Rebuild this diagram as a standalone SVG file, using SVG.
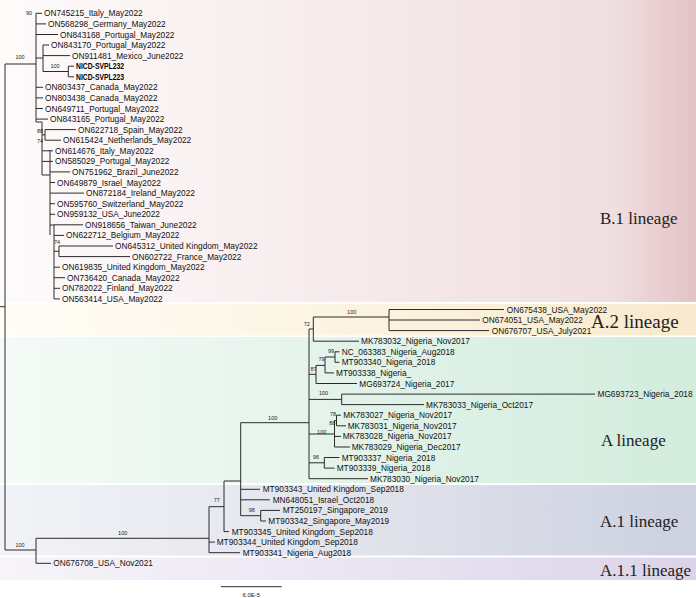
<svg xmlns="http://www.w3.org/2000/svg" width="696" height="598" viewBox="0 0 696 598">
<style>
.t{font-family:"Liberation Sans",Arial,sans-serif;font-size:8.3px;fill:#111}
.b{font-family:"Liberation Sans",Arial,sans-serif;font-size:8.4px;font-weight:bold;fill:#000}
.s{font-family:"Liberation Sans",Arial,sans-serif;font-size:5.5px;fill:#222;text-anchor:middle}
.lin{font-family:"Liberation Serif","Times New Roman",serif;font-size:17px;fill:#222}
.br{fill:none;stroke:#2a2a2a;stroke-width:1}
</style>
<defs>
<linearGradient id="gB1" x1="0" x2="1" y1="0" y2="0"><stop offset="0" stop-color="#fefbfb"/><stop offset="0.45" stop-color="#f7eced"/><stop offset="0.88" stop-color="#f0dfe0"/><stop offset="1" stop-color="#e3c2c5"/></linearGradient>
<linearGradient id="gA2" x1="0" x2="1" y1="0" y2="0"><stop offset="0" stop-color="#fffdf7"/><stop offset="0.5" stop-color="#fcf4e2"/><stop offset="1" stop-color="#f8eace"/></linearGradient>
<linearGradient id="gA" x1="0" x2="1" y1="0" y2="0"><stop offset="0" stop-color="#f5fbf7"/><stop offset="0.5" stop-color="#e3f3ea"/><stop offset="1" stop-color="#d2ecdd"/></linearGradient>
<linearGradient id="gA1" x1="0" x2="1" y1="0" y2="0"><stop offset="0" stop-color="#f2f3f7"/><stop offset="0.5" stop-color="#e2e4ec"/><stop offset="1" stop-color="#cdd1e0"/></linearGradient>
<linearGradient id="gA11" x1="0" x2="1" y1="0" y2="0"><stop offset="0" stop-color="#f7f4fa"/><stop offset="0.5" stop-color="#ebe5f2"/><stop offset="1" stop-color="#dcd3e9"/></linearGradient>
</defs>
<rect width="696" height="598" fill="#fff"/>
<g id="lineage-B1"><rect x="0" y="0" width="696" height="302" fill="url(#gB1)"/><text class="lin" x="600" y="224">B.1 lineage</text></g>
<g id="lineage-A2"><rect x="0" y="304" width="696" height="31.5" fill="url(#gA2)"/><text class="lin" x="591" y="328" style="font-size:19px">A.2 lineage</text></g>
<g id="lineage-A"><rect x="0" y="337" width="696" height="146" fill="url(#gA)"/><text class="lin" x="601" y="446">A lineage</text></g>
<g id="lineage-A1"><rect x="0" y="485" width="696" height="70.5" fill="url(#gA1)"/><text class="lin" x="600" y="527">A.1 lineage</text></g>
<g id="lineage-A11"><rect x="0" y="557.5" width="696" height="22.5" fill="url(#gA11)"/><text class="lin" x="600" y="576">A.1.1 lineage</text></g>

<g id="connectors" class="br">
<path d="M0,306.7H5M5,64V550M5,64H36M36,13.3V122
M36,13.3H42M36,23.9H46M36,34.5H58
M36,58H43M43,45V71.5M43,45H49M43,55.6H70M43,71.5H68.3M68.3,66.2V76.8M68.3,66.2H74M68.3,76.8H74
M36,87.3H43M36,97.9H43M36,108.5H43M36,119.1H48
M36,122H42M42,122V175M42,134.9H45M45,129.6V140.2M45,129.6H76M45,140.2H61
M42,150.8H53M42,161.4H53M42,175H50M50,150V235
M50,171.9H70M50,182.5H55M50,193.1H84M50,203.7H55M50,214.3H55
M50,225H54M54,224.8V298.9M54,224.8H83M54,235.4H64
M54,251.3H59M59,246V256.6M59,246H113M59,256.6H130
M54,267.2H60M54,277.7H65M54,288.3H60M54,298.9H60
M5,550H36M36,538.3V563.3M36,563.3H51M36,538.3H209
M209,506.7V552.7M209,552.7H240M209,542.1H215M209,506.7H224
M224,481V531.6M224,531.6H229M224,481H240.7
M240.7,422.7V515.7M240.7,489.3H260M240.7,499.8H270M240.7,515.7H260.7
M260.7,510.4V521M260.7,510.4H280M260.7,521H266
M240.7,422.7H309M309,329V478.7
M309,329H313.3M313.3,317V341.2M313.3,341.2H359M313.3,317H389
M389,309.5V330.6M389,309.5H504M389,320H480M389,330.6H489
M309,374.3H316M316,365.4V383.5M316,383.5H357M316,365.4H325
M325,357V372.9M325,372.9H334M325,357H335M335,351.8V362.3M335,351.8H339.5M335,362.3H339.5
M309,399.4H341.7M341.7,394.1V404.6M341.7,394.1H595M341.7,404.6H424
M309,434H334.5M334.5,420.5V447M334.5,420.5H336.5M336.5,415.2V425.8M336.5,415.2H341M336.5,425.8H346M334.5,436.4H341M334.5,447H350
M309,462.8H324.3M324.3,457.5V468.1M324.3,457.5H339.5M324.3,468.1H334.5
M309,478.7H368
M221,586.7H281.7"/>
</g>

<g id="support">
<text class="s" x="29" y="15">90</text>
<text class="s" x="20" y="59">100</text>
<text class="s" x="55" y="68">100</text>
<text class="s" x="40" y="133">88</text>
<text class="s" x="40" y="143">74</text>
<text class="s" x="57" y="244">74</text>
<text class="s" x="351.7" y="314">100</text>
<text class="s" x="306.7" y="325.5">72</text>
<text class="s" x="331" y="353">99</text>
<text class="s" x="321.5" y="360.5">79</text>
<text class="s" x="313.5" y="370.5">87</text>
<text class="s" x="323.5" y="395">100</text>
<text class="s" x="333" y="416">78</text>
<text class="s" x="332.3" y="424.5">88</text>
<text class="s" x="321.7" y="434">100</text>
<text class="s" x="272.7" y="419.5">100</text>
<text class="s" x="316" y="459">96</text>
<text class="s" x="216.7" y="502">77</text>
<text class="s" x="251.7" y="511.5">98</text>
<text class="s" x="122.7" y="534.5">100</text>
<text class="s" x="20" y="547">100</text>
<text class="s" x="251.3" y="596.5" style="font-size:6px">6.0E-5</text>
</g>

<g id="taxa">
<g id="n0"><text class="t" x="44" y="16.3">ON745215_Italy_May2022</text></g>
<g id="n1"><text class="t" x="48" y="26.9">ON568298_Germany_May2022</text></g>
<g id="n2"><text class="t" x="60" y="37.5">ON843168_Portugal_May2022</text></g>
<g id="n3"><text class="t" x="51" y="48">ON843170_Portugal_May2022</text></g>
<g id="n4"><text class="t" x="72" y="58.6">ON911481_Mexico_June2022</text></g>
<g id="n5"><text class="b" x="76" y="69.4" textLength="48" lengthAdjust="spacingAndGlyphs">NICD-SVPL232</text></g>
<g id="n6"><text class="b" x="76" y="80" textLength="48" lengthAdjust="spacingAndGlyphs">NICD-SVPL223</text></g>
<g id="n7"><text class="t" x="45" y="90.3">ON803437_Canada_May2022</text></g>
<g id="n8"><text class="t" x="45" y="100.9">ON803438_Canada_May2022</text></g>
<g id="n9"><text class="t" x="45" y="111.5">ON649711_Portugal_May2022</text></g>
<g id="n10"><text class="t" x="50" y="122.1">ON843165_Portugal_May2022</text></g>
<g id="n11"><text class="t" x="78" y="132.6">ON622718_Spain_May2022</text></g>
<g id="n12"><text class="t" x="63" y="143.2">ON615424_Netherlands_May2022</text></g>
<g id="n13"><text class="t" x="55" y="153.8">ON614676_Italy_May2022</text></g>
<g id="n14"><text class="t" x="55" y="164.4">ON585029_Portugal_May2022</text></g>
<g id="n15"><text class="t" x="72" y="174.9">ON751962_Brazil_June2022</text></g>
<g id="n16"><text class="t" x="57" y="185.5">ON649879_Israel_May2022</text></g>
<g id="n17"><text class="t" x="86" y="196.1">ON872184_Ireland_May2022</text></g>
<g id="n18"><text class="t" x="57" y="206.7">ON595760_Switzerland_May2022</text></g>
<g id="n19"><text class="t" x="57" y="217.3">ON959132_USA_June2022</text></g>
<g id="n20"><text class="t" x="85" y="227.8">ON918656_Taiwan_June2022</text></g>
<g id="n21"><text class="t" x="66" y="238.4">ON622712_Belgium_May2022</text></g>
<g id="n22"><text class="t" x="115" y="249">ON645312_United Kingdom_May2022</text></g>
<g id="n23"><text class="t" x="132" y="259.6">ON602722_France_May2022</text></g>
<g id="n24"><text class="t" x="62" y="270.2">ON619835_United Kingdom_May2022</text></g>
<g id="n25"><text class="t" x="67" y="280.7">ON736420_Canada_May2022</text></g>
<g id="n26"><text class="t" x="62" y="291.3">ON782022_Finland_May2022</text></g>
<g id="n27"><text class="t" x="62" y="301.9">ON563414_USA_May2022</text></g>
<g id="n28"><text class="t" x="506.7" y="312.5">ON675438_USA_May2022</text></g>
<g id="n29"><text class="t" x="482.3" y="323">ON674051_USA_May2022</text></g>
<g id="n30"><text class="t" x="491.7" y="333.6">ON676707_USA_July2021</text></g>
<g id="n31"><text class="t" x="361" y="344.2">MK783032_Nigeria_Nov2017</text></g>
<g id="n32"><text class="t" x="341.7" y="354.8">NC_063383_Nigeria_Aug2018</text></g>
<g id="n33"><text class="t" x="341.7" y="365.3">MT903340_Nigeria_2018</text></g>
<g id="n34"><text class="t" x="336" y="375.9">MT903338_Nigeria_</text></g>
<g id="n35"><text class="t" x="359.3" y="386.5">MG693724_Nigeria_2017</text></g>
<g id="n36"><text class="t" x="597.5" y="397.1">MG693723_Nigeria_2018</text></g>
<g id="n37"><text class="t" x="426" y="407.6">MK783033_Nigeria_Oct2017</text></g>
<g id="n38"><text class="t" x="343.3" y="418.2">MK783027_Nigeria_Nov2017</text></g>
<g id="n39"><text class="t" x="347.7" y="428.8">MK783031_Nigeria_Nov2017</text></g>
<g id="n40"><text class="t" x="342.7" y="439.4">MK783028_Nigeria_Nov2017</text></g>
<g id="n41"><text class="t" x="351.7" y="450">MK783029_Nigeria_Dec2017</text></g>
<g id="n42"><text class="t" x="341.7" y="460.5">MT903337_Nigeria_2018</text></g>
<g id="n43"><text class="t" x="336.7" y="471.1">MT903339_Nigeria_2018</text></g>
<g id="n44"><text class="t" x="370" y="481.7">MK783030_Nigeria_Nov2017</text></g>
<g id="n45"><text class="t" x="262.7" y="492.3">MT903343_United Kingdom_Sep2018</text></g>
<g id="n46"><text class="t" x="272.7" y="502.8">MN648051_Israel_Oct2018</text></g>
<g id="n47"><text class="t" x="282.7" y="513.4">MT250197_Singapore_2019</text></g>
<g id="n48"><text class="t" x="268.3" y="524">MT903342_Singapore_May2019</text></g>
<g id="n49"><text class="t" x="231.7" y="534.6">MT903345_United Kingdom_Sep2018</text></g>
<g id="n50"><text class="t" x="216.7" y="545.1">MT903344_United Kingdom_Sep2018</text></g>
<g id="n51"><text class="t" x="242.7" y="555.7">MT903341_Nigeria_Aug2018</text></g>
<g id="n52"><text class="t" x="53.3" y="566.3">ON676708_USA_Nov2021</text></g>
</g>
</svg>
